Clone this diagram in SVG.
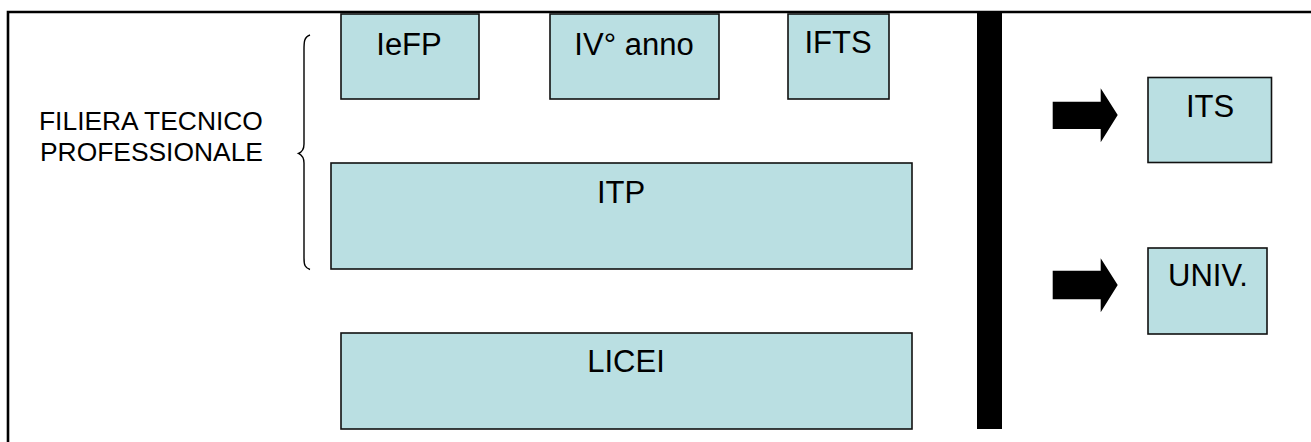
<svg xmlns="http://www.w3.org/2000/svg" width="1311" height="442" viewBox="0 0 1311 442">
<style>
.box{fill:#badfe2;stroke:#111;stroke-width:1.6}
.lbl{font-family:"Liberation Sans",Arial,sans-serif;font-size:31px;fill:#000;text-anchor:middle}
.side{font-family:"Liberation Sans",Arial,sans-serif;font-size:26.4px;fill:#000}
</style>
<rect width="1311" height="442" fill="#fff"/>
<g id="frame">
<path d="M8,442 V12 H1311" fill="none" stroke="#000" stroke-width="2.6"/>
</g>
<g id="side-label">
<text class="side" x="39" y="130">FILIERA TECNICO</text>
<text class="side" x="40" y="161">PROFESSIONALE</text>
<path d="M310,35 C304,37 304,42 304,50 L304,144 C304,150 302,152 298.5,153.3 C302,155 304,157 304,163 L304,258 C304,265 305,268 310,269.5" fill="none" stroke="#000" stroke-width="1.4"/>
</g>
<g id="n-iefp"><rect class="box" x="341" y="14" width="138" height="85"/><text class="lbl" x="409" y="55">IeFP</text></g>
<g id="n-iv"><rect class="box" x="550" y="14" width="169" height="85"/><text class="lbl" x="634" y="55">IV° anno</text></g>
<g id="n-ifts"><rect class="box" x="788" y="14" width="101" height="85"/><text class="lbl" x="838" y="53">IFTS</text></g>
<g id="n-itp"><rect class="box" x="331" y="163" width="581" height="106"/><text class="lbl" x="621" y="203">ITP</text></g>
<g id="n-licei"><rect class="box" x="341" y="333" width="571" height="96"/><text class="lbl" x="626" y="372">LICEI</text></g>
<g id="n-its"><rect class="box" x="1148" y="77.5" width="123.5" height="85"/><text class="lbl" x="1210" y="117">ITS</text></g>
<g id="n-univ"><rect class="box" x="1148" y="248" width="119" height="86"/><text class="lbl" x="1208" y="286">UNIV.</text></g>
<g id="connectors">
<rect x="977" y="12" width="25" height="417" fill="#000"/>
<polygon points="1052.7,101.7 1100.7,101.7 1100.7,88.3 1117.7,115 1100.7,142.3 1100.7,129 1052.7,129" fill="#000"/>
<polygon points="1052.7,270.7 1100.7,270.7 1100.7,258.3 1117.7,285 1100.7,312.3 1100.7,299.3 1052.7,299.3" fill="#000"/>
</g>
</svg>
